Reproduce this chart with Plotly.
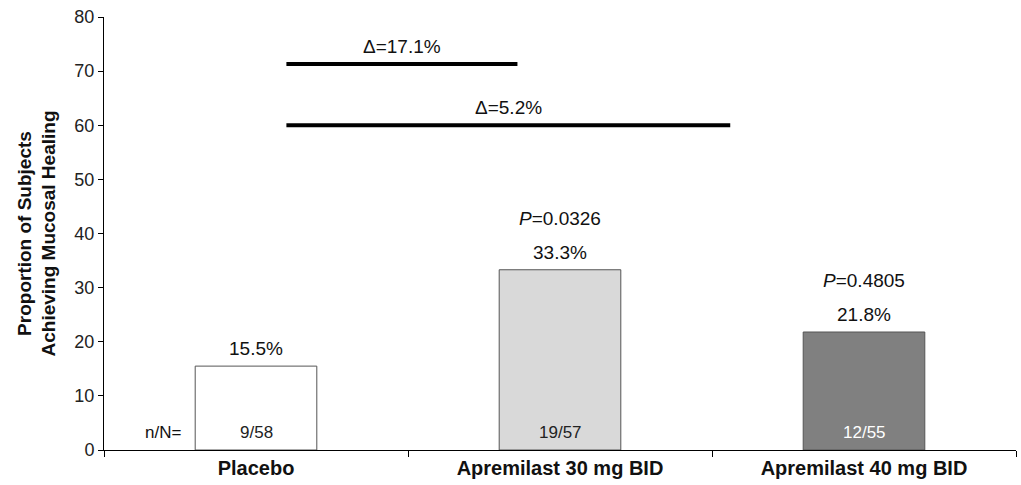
import plotly.graph_objects as go

categories = ["Placebo", "Apremilast 30 mg BID", "Apremilast 40 mg BID"]
values = [15.5, 33.3, 21.8]
fractions = ["9/58", "19/57", "12/55"]
p_values = [None, "0.0326", "0.4805"]
bar_colors = ["#ffffff", "#d9d9d9", "#808080"]
frac_colors = ["#222222", "#222222", "#ffffff"]
delta_labels = ["Δ=17.1%", "Δ=5.2%"]
delta_levels = [71.3, 60.0]
delta_ends = [0.86, 1.56]
delta_start = 0.1

FONT = "Liberation Sans, Arial, sans-serif"

fig = go.Figure()
fig.add_trace(go.Bar(
    x=categories, y=values, width=0.4,
    marker=dict(color=bar_colors, line=dict(color="#555555", width=1)),
    textposition="none", showlegend=False, hoverinfo="skip",
))

annotations = []
for i, (c, v) in enumerate(zip(categories, values)):
    annotations.append(dict(x=c, y=v, text=f"{v}%", showarrow=False, yanchor="bottom",
                            yshift=5, font=dict(size=19, color="#111111", family=FONT)))
    if p_values[i]:
        annotations.append(dict(x=c, y=v, text=f"<i>P</i>={p_values[i]}", showarrow=False,
                                yanchor="bottom", yshift=39, font=dict(size=19, color="#111111", family=FONT)))
    annotations.append(dict(x=c, y=0, text=fractions[i], showarrow=False, yanchor="middle",
                            yshift=18, font=dict(size=17, color=frac_colors[i], family=FONT)))
annotations.append(dict(x=-0.305, y=0, xref="x", text="n/N=", showarrow=False, yanchor="middle",
                        yshift=18, font=dict(size=17, color="#111111", family=FONT)))

shapes = []
for lab, lvl, end in zip(delta_labels, delta_levels, delta_ends):
    shapes.append(dict(type="line", xref="x", yref="y", x0=delta_start, x1=end, y0=lvl, y1=lvl,
                       line=dict(color="black", width=4)))
    annotations.append(dict(x=(delta_start + end) / 2, y=lvl, xref="x", yref="y", text=lab,
                            showarrow=False, yanchor="bottom", yshift=5,
                            font=dict(size=19, color="#111111", family=FONT)))

annotations.append(dict(x=-68 / 912, y=0.5, xref="paper", yref="paper", xanchor="center", yanchor="middle",
                        text="<b>Proportion of Subjects<br>Achieving Mucosal Healing</b>", textangle=-90,
                        showarrow=False, font=dict(size=19, color="#111111", family=FONT)))

fig.update_layout(
    width=1021, height=485,
    margin=dict(l=104, r=5, t=17, b=35, autoexpand=False),
    paper_bgcolor="white", plot_bgcolor="white",
    shapes=shapes, annotations=annotations,
    font=dict(family=FONT, color="#111111"),
    xaxis=dict(type="category", tickson="boundaries", ticks="outside", ticklen=6, tickcolor="black",
               showline=True, linecolor="black", linewidth=1, showgrid=False,
               tickfont=dict(size=20, color="#111111", family=FONT), range=[-0.5, 2.5],
               tickprefix="<b>", ticksuffix="</b>"),
    yaxis=dict(range=[0, 80], dtick=10, ticks="outside", ticklen=5, tickcolor="black",
               showline=True, linecolor="black", linewidth=1, showgrid=False, zeroline=False,
               tickfont=dict(size=18, color="#222222", family=FONT)),
)

fig.write_html("out.html", config={"displayModeBar": False},
               post_script="document.body.style.margin='0px';document.body.style.overflow='hidden';")
